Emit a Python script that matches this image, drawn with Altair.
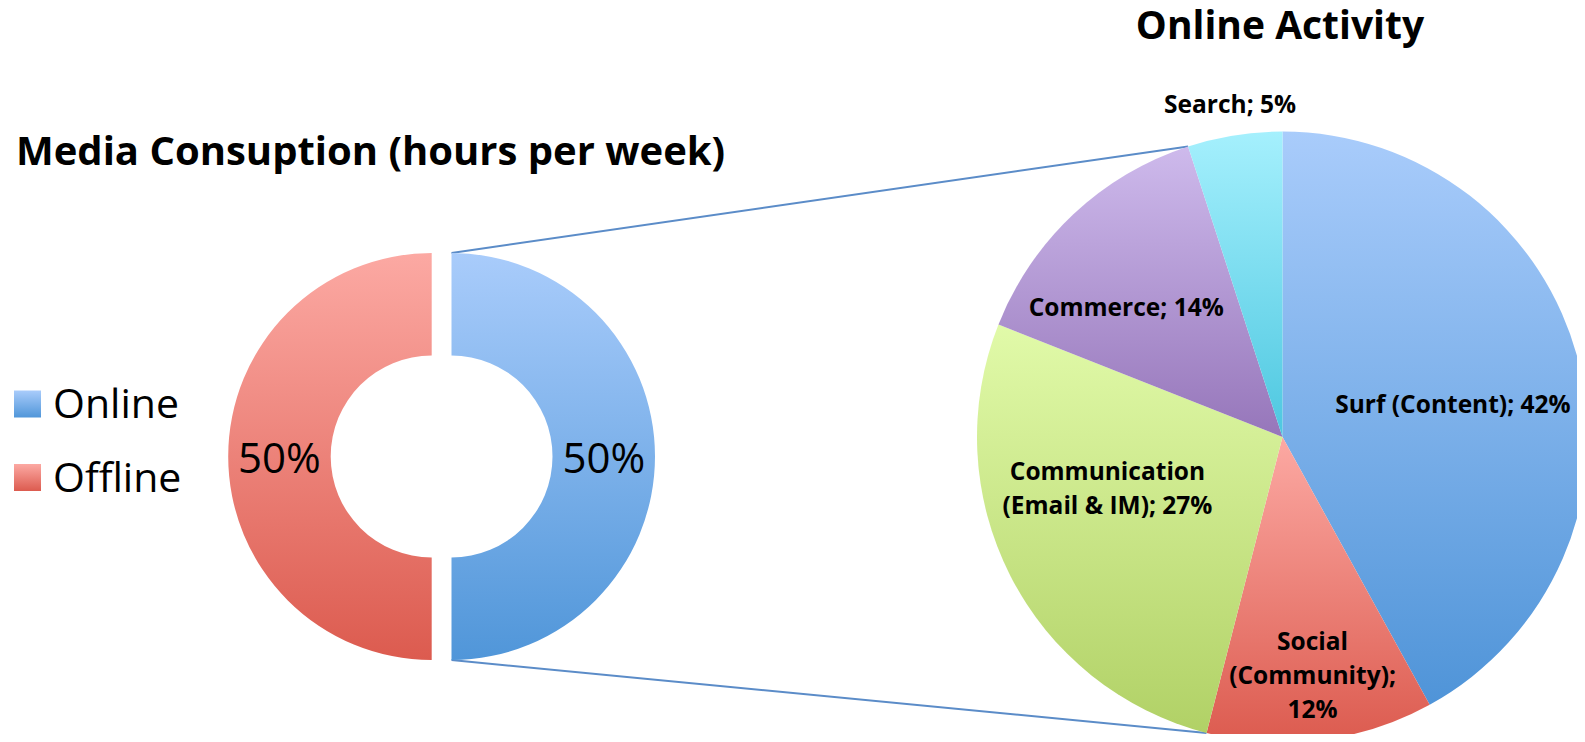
import math
import altair as alt
import pandas as pd

# ---------------- data ----------------
media_categories = ["Online", "Offline"]
media_share = [50, 50]
media_labels = ["50%", "50%"]

activity_categories = ["Surf (Content)", "Social (Community)",
                       "Communication (Email & IM)", "Commerce", "Search"]
activity_share = [42, 12, 27, 14, 5]
activity_labels = ["Surf (Content); 42%", "Social\n(Community);\n12%",
                   "Communication\n(Email & IM); 27%", "Commerce; 14%", "Search; 5%"]

title_left = "Media Consuption (hours per week)"
title_right = "Online Activity"

# ---------------- styles ----------------
FONT = "Open Sans"
grad_colors = {
    "Online": ("#A9CCFB", "#5096D9"),
    "Offline": ("#FCA9A3", "#DC5B4F"),
    "Surf (Content)": ("#A9CCFB", "#4F94D8"),
    "Social (Community)": ("#FCA9A3", "#DC5B4F"),
    "Communication (Email & IM)": ("#E1FAA9", "#B1D166"),
    "Commerce": ("#CEBAEC", "#9676BA"),
    "Search": ("#A5F0FD", "#4DC7E0"),
}

# ---------------- layout (view pixels; page = view + 8) ----------------
OFF = 8
W, H = 1585 - 2 * OFF, 742 - 2 * OFF
DONUT_CY = 456.5 - OFF
DONUT_CX = {"Online": 451.5 - OFF, "Offline": 431.7 - OFF}
R_OUT, R_IN = 203.5, 101
PIE_CX, PIE_CY, PIE_R = 1282.5 - OFF, 437 - OFF, 305.5
LINE_H = 34

# label placement: radius, dx, dy (dy of the first line)
pie_label_layout = {
    "Surf (Content)": (178, -2, 13),
    "Social (Community)": (240, 0, 2 - LINE_H),
    "Communication (Email & IM)": (183, -12, -30 - LINE_H / 2),
    "Commerce": (202, -18, 19),
    "Search": (335, 0, 0),
}

theta_scale = alt.Scale(domain=[0, 100], range=[0, 2 * math.pi])


def build_df(cats, vals, labels):
    df = pd.DataFrame({"category": cats, "share": vals, "label": labels})
    df["end"] = df["share"].cumsum()
    df["start"] = df["end"] - df["share"]
    df["mid"] = (df["start"] + df["end"]) / 2
    return df


media_df = build_df(media_categories, media_share, media_labels)
act_df = build_df(activity_categories, activity_share, activity_labels)


def gradient(cat):
    c0, c1 = grad_colors[cat]
    return alt.Gradient(
        gradient="linear",
        stops=[alt.GradientStop(color=c0, offset=0), alt.GradientStop(color=c1, offset=1)],
        x1=0, x2=0, y1=0, y2=1,
    )


layers = []

# connector lines (computed from pie geometry)
def pie_point(pct):
    a = pct / 100 * 2 * math.pi
    return PIE_CX + PIE_R * math.sin(a), PIE_CY - PIE_R * math.cos(a)

search_start = float(act_df.loc[act_df.category == "Search", "start"].iloc[0])
comm_start = float(act_df.loc[act_df.category == "Communication (Email & IM)", "start"].iloc[0])
p_top = pie_point(search_start)
p_bot = pie_point(comm_start)
conn_df = pd.DataFrame({
    "x": [DONUT_CX["Online"], DONUT_CX["Online"]],
    "y": [DONUT_CY - R_OUT, DONUT_CY + R_OUT],
    "x2": [p_top[0], p_bot[0]],
    "y2": [p_top[1], p_bot[1]],
})
layers.append(
    alt.Chart(conn_df).mark_rule(color="#5B8CC8", strokeWidth=2).encode(
        x=alt.X("x:Q", scale=None), y=alt.Y("y:Q", scale=None),
        x2="x2:Q", y2="y2:Q",
    )
)

# donut halves
for cat in media_categories:
    cx = DONUT_CX[cat]
    layers.append(
        alt.Chart(media_df).transform_filter(alt.datum.category == cat)
        .mark_arc(outerRadius=R_OUT, innerRadius=R_IN, fill=gradient(cat))
        .encode(theta=alt.Theta("start:Q", scale=theta_scale), theta2="end:Q",
                x=alt.value(cx), y=alt.value(DONUT_CY))
    )
    layers.append(
        alt.Chart(media_df).transform_filter(alt.datum.category == cat)
        .mark_text(radius=(R_OUT + R_IN) / 2, font=FONT, fontSize=42, color="black",
                   baseline="middle", align="center", dy=3)
        .encode(theta=alt.Theta("mid:Q", scale=theta_scale), text="label:N",
                x=alt.value(cx), y=alt.value(DONUT_CY))
    )

# pie slices
for cat in activity_categories:
    layers.append(
        alt.Chart(act_df).transform_filter(alt.datum.category == cat)
        .mark_arc(outerRadius=PIE_R, fill=gradient(cat))
        .encode(theta=alt.Theta("start:Q", scale=theta_scale), theta2="end:Q",
                x=alt.value(PIE_CX), y=alt.value(PIE_CY))
    )
for cat in activity_categories:
    r, dx, dy = pie_label_layout[cat]
    layers.append(
        alt.Chart(act_df).transform_filter(alt.datum.category == cat)
        .mark_text(radius=r, dx=dx, dy=dy, font=FONT, fontSize=24.5, fontWeight="bold",
                   color="black", baseline="middle", align="center",
                   lineBreak="\n", lineHeight=LINE_H)
        .encode(theta=alt.Theta("mid:Q", scale=theta_scale), text="label:N",
                x=alt.value(PIE_CX), y=alt.value(PIE_CY))
    )

# legend
legend_rows = {"Online": 404 - OFF, "Offline": 477.5 - OFF}
for cat in media_categories:
    yc = legend_rows[cat]
    leg_df = media_df[media_df.category == cat]
    layers.append(
        alt.Chart(leg_df).mark_rect(fill=gradient(cat)).encode(
            x=alt.value(14 - OFF), x2=alt.value(41 - OFF),
            y=alt.value(yc - 13.5), y2=alt.value(yc + 13.5))
    )
    layers.append(
        alt.Chart(leg_df).mark_text(font=FONT, fontSize=41, color="black",
                                    align="left", baseline="middle", dy=2)
        .encode(text="category:N", x=alt.value(53 - OFF), y=alt.value(yc))
    )

# titles
title_df = pd.DataFrame({"t": [title_left, title_right]})
layers.append(
    alt.Chart(title_df).transform_filter(alt.datum.t == title_left)
    .mark_text(font=FONT, fontSize=40, fontWeight="bold", align="left",
               baseline="alphabetic", color="black")
    .encode(text="t:N", x=alt.value(16 - OFF), y=alt.value(165 - OFF))
)
layers.append(
    alt.Chart(title_df).transform_filter(alt.datum.t == title_right)
    .mark_text(font=FONT, fontSize=39, fontWeight="bold", align="center",
               baseline="alphabetic", color="black")
    .encode(text="t:N", x=alt.value(1280 - OFF), y=alt.value(38.5 - OFF))
)

chart = alt.layer(*layers).properties(
    width=W, height=H, autosize=alt.AutoSizeParams(type="none"), padding=0,
    background="white",
).configure_view(stroke=None)

chart.save("out.html", embed_options={"renderer": "svg", "actions": False})
